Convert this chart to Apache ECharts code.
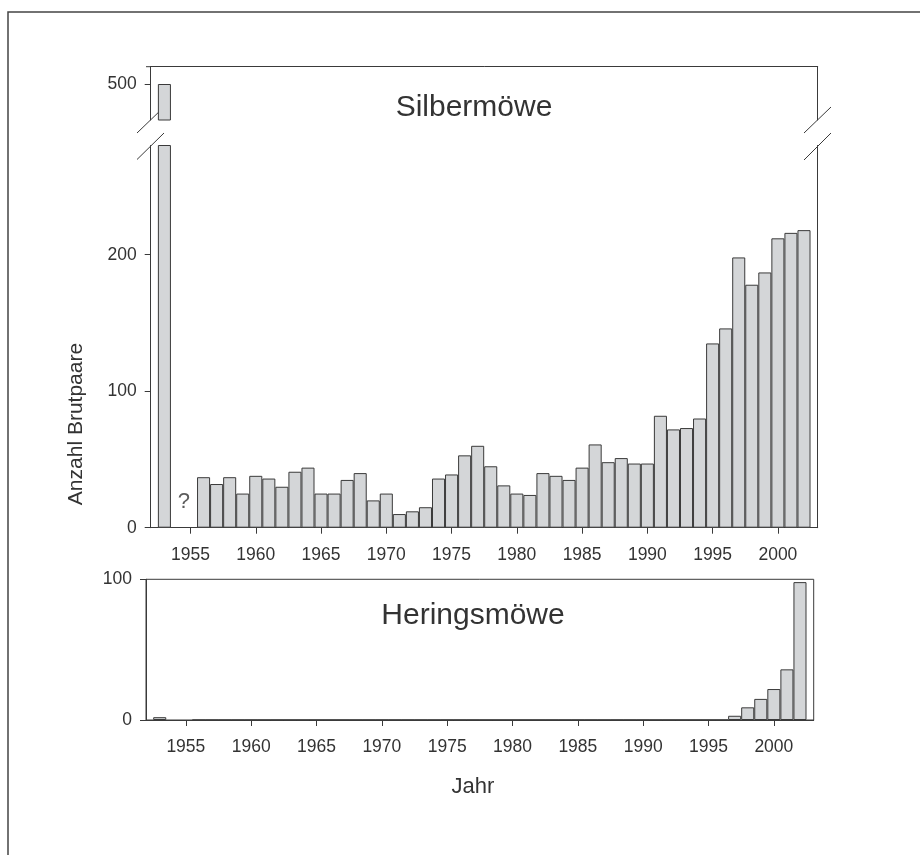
<!DOCTYPE html>
<html><head><meta charset="utf-8">
<script src="https://cdn.jsdelivr.net/npm/echarts@6/dist/echarts.min.js"></script>
<style>html,body{margin:0;padding:0;background:#fff}#c{width:920px;height:855px}</style>
</head><body><div id="c"></div>
<script>
// ---- data ----
const years = [];
for (let y = 1953; y <= 2002; y++) years.push(y);
// Silbermöwe, 1953..2002 (1954, 1955 unknown)
const silbermoewe = [500, null, null, 37, 32, 37, 25, 38, 36, 30,
  41, 44, 25, 25, 35, 40, 20, 25, 10, 12,
  15, 36, 39, 53, 60, 45, 31, 25, 24, 40,
  38, 35, 44, 61, 48, 51, 47, 47, 82, 72,
  73, 80, 135, 146, 198, 178, 187, 212, 216, 218];
// Heringsmöwe, 1953..2002
const heringsmoewe = [2, null, null, 0, 0, 0, 0, 0, 0, 0,
  0, 0, 0, 0, 0, 0, 0, 0, 0, 0,
  0, 0, 0, 0, 0, 0, 0, 0, 0, 0,
  0, 0, 0, 0, 0, 0, 0, 0, 0, 0,
  0, 0, 0, 0, 3, 9, 15, 22, 36, 98];
const yearTicks = [1955, 1960, 1965, 1970, 1975, 1980, 1985, 1990, 1995, 2000];
const silberTicksLow = [0, 100, 200];
const silberTicksHigh = [500];
const heringTicks = [0, 100];
const unknownMark = [[1954.5, 19]];
const titleTop = 'Silbermöwe';
const titleBottom = 'Heringsmöwe';
const yName = 'Anzahl Brutpaare';
const xName = 'Jahr';

// ---- chart ----
const pairs = (vals) => years.map((y, i) => [y, vals[i]]);
const FONT = 'Liberation Sans, Arial, sans-serif';
const TXT = '#333';
const LINE = '#3a3a3a';
const BAR = { color: '#d4d6d8', borderColor: LINE, borderWidth: 1 };
const XMIN = 1951.95, XMAX = 2003.05;
const plain = (v) => String(v);

const hiddenAxis = (extra) => Object.assign({
  axisLine: { show: true, onZero: false, lineStyle: { color: LINE, width: 1 } },
  axisTick: { show: false }, axisLabel: { show: false }, splitLine: { show: false }
}, extra);

const labelStyle = { color: TXT, fontSize: 17.5, fontFamily: FONT, formatter: plain };

const xAxisLabelled = (grid) => ({
  gridIndex: grid, type: 'value', min: XMIN, max: XMAX, position: 'bottom',
  axisLine: { show: true, onZero: false, lineStyle: { color: LINE, width: 1 } },
  axisTick: { show: true, length: 6, customValues: yearTicks, lineStyle: { color: LINE } },
  axisLabel: Object.assign({ customValues: yearTicks, margin: 18 }, labelStyle),
  splitLine: { show: false }
});
const yAxisLabelled = (grid, min, max, ticks) => ({
  gridIndex: grid, type: 'value', min: min, max: max, position: 'left',
  axisLine: { show: true, onZero: false, lineStyle: { color: LINE, width: 1 } },
  axisTick: { show: true, length: 6, customValues: ticks, lineStyle: { color: LINE } },
  axisLabel: Object.assign({ customValues: ticks, margin: 14 }, labelStyle),
  splitLine: { show: false }
});

const chart = echarts.init(document.getElementById('c'), null, { renderer: 'canvas' });
chart.setOption({
  backgroundColor: '#fff',
  animation: false,
  grid: [
    { left: 150.7, right: 102.3, top: 66.7, height: 53.3 },
    { left: 150.7, right: 102.3, top: 145.5, height: 382.2 },
    { left: 146, right: 106.3, top: 579.3, height: 140.7, show: true, borderColor: LINE, borderWidth: 1 }
  ],
  xAxis: [
    hiddenAxis({ gridIndex: 0, type: 'value', min: XMIN, max: XMAX, position: 'top' }),
    xAxisLabelled(1),
    xAxisLabelled(2)
  ],
  yAxis: [
    yAxisLabelled(0, 473.6, 512.7, silberTicksHigh),
    hiddenAxis({ gridIndex: 0, type: 'value', min: 473.6, max: 512.7, position: 'right' }),
    yAxisLabelled(1, 0, 280, silberTicksLow),
    hiddenAxis({ gridIndex: 1, type: 'value', min: 0, max: 280, position: 'right' }),
    yAxisLabelled(2, 0, 100, heringTicks)
  ],
  series: [
    { type: 'bar', name: titleTop, xAxisIndex: 0, yAxisIndex: 0, data: pairs(silbermoewe),
      barWidth: '100%', clip: true, itemStyle: BAR, z: 3 },
    { type: 'bar', name: titleTop, xAxisIndex: 1, yAxisIndex: 2, data: pairs(silbermoewe),
      barWidth: '100%', clip: true, itemStyle: BAR, z: 3 },
    { type: 'bar', name: titleBottom, xAxisIndex: 2, yAxisIndex: 4, data: pairs(heringsmoewe),
      barWidth: '100%', clip: true, itemStyle: BAR, z: 3 },
    { type: 'scatter', xAxisIndex: 1, yAxisIndex: 2, data: unknownMark, symbolSize: 0,
      label: { show: true, position: 'inside', formatter: '?', color: TXT, fontSize: 22, fontFamily: FONT } }
  ],
  graphic: [
    { type: 'rect', z: 0, shape: { x: 8, y: 12, width: 1000, height: 1000 },
      style: { fill: 'none', stroke: '#444', lineWidth: 1.5 } },
    { type: 'line', z: 0, shape: { x1: 146, y1: 66.7, x2: 151, y2: 66.7 }, style: { stroke: LINE, lineWidth: 1 } },
    { type: 'line', z: 0, shape: { x1: 137, y1: 133, x2: 164, y2: 107 }, style: { stroke: LINE, lineWidth: 1 } },
    { type: 'line', z: 0, shape: { x1: 137, y1: 159.5, x2: 164, y2: 133 }, style: { stroke: LINE, lineWidth: 1 } },
    { type: 'line', z: 0, shape: { x1: 804, y1: 133, x2: 831, y2: 107 }, style: { stroke: LINE, lineWidth: 1 } },
    { type: 'line', z: 0, shape: { x1: 804, y1: 160, x2: 831, y2: 133 }, style: { stroke: LINE, lineWidth: 1 } },
    { type: 'text', x: 474, y: 108, style: { text: titleTop, fill: TXT, font: '30px ' + FONT, textAlign: 'center', textVerticalAlign: 'middle' } },
    { type: 'text', x: 473, y: 616, style: { text: titleBottom, fill: TXT, font: '30px ' + FONT, textAlign: 'center', textVerticalAlign: 'middle' } },
    { type: 'text', x: 473, y: 787, style: { text: xName, fill: TXT, font: '22px ' + FONT, textAlign: 'center', textVerticalAlign: 'middle' } },
    { type: 'text', x: 76, y: 424, rotation: Math.PI / 2, style: { text: yName, fill: TXT, font: '21px ' + FONT, textAlign: 'center', textVerticalAlign: 'middle' } }
  ]
});
</script>
</body></html>
